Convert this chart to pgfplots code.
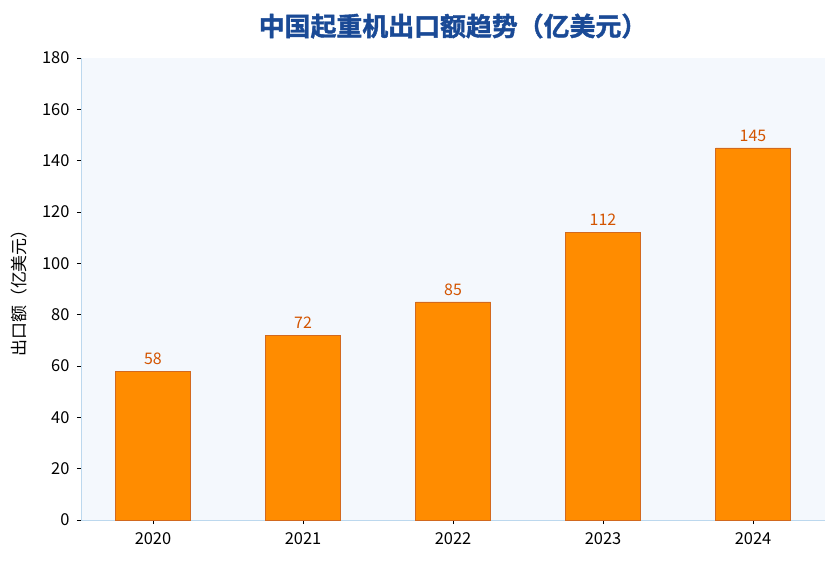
\documentclass[border=0pt]{standalone}
\usepackage{pgfplots}
\pgfplotsset{compat=1.18}
\usepackage{fontspec}
\setmainfont{Noto Sans CJK SC}
\newfontfamily\titlefont[FakeBold=1.5]{Noto Sans CJK SC Bold}
\definecolor{barfill}{HTML}{FF8C00}
\definecolor{baredge}{HTML}{D2691E}
\definecolor{vallab}{HTML}{D35400}
\definecolor{titleblue}{HTML}{1A4A96}
\definecolor{bgc}{HTML}{F4F8FD}
\definecolor{spine}{HTML}{BCD8EE}
\begin{document}
\begin{tikzpicture}
\begin{axis}[
  scale only axis,
  width=744bp, height=462bp,
  xmin=-0.48, xmax=4.48,
  ymin=0, ymax=180,
  ytick={0,20,...,180},
  xtick={0,1,2,3,4},
  xticklabels={2020,2021,2022,2023,2024},
  axis background/.style={fill=bgc},
  axis x line*=bottom, axis y line*=left,
  axis line style={spine, line width=0.8pt},
  tick style={black, line width=0.6pt},
  tick align=outside,
  major tick length=4bp,
  ticklabel style={font=\fontsize{16.5}{16.5}\selectfont},
  yticklabel style={xshift=-4bp},
  xticklabel style={yshift=-5bp},
  /pgf/number format/assume math mode=true,
  ylabel={出口额（亿美元）},
  ylabel style={font=\fontsize{17}{17}\selectfont, yshift=8bp},
  title={\titlefont 中国起重机出口额趋势（亿美元）},
  title style={font=\fontsize{26}{26}\selectfont, color=titleblue, yshift=10bp},
  nodes near coords,
  every node near coord/.append style={font=\fontsize{16}{16}\selectfont, color=vallab, yshift=3bp},
]
\addplot[ybar, bar width=75bp, fill=barfill, draw=baredge, line width=0.5pt]
  coordinates {(0,58) (1,72) (2,85) (3,112) (4,145)};
\end{axis}
\path (current axis.south west) ++(-81bp,-42bp) coordinate (bl);
\path (current axis.north east) ++(11bp,58bp) coordinate (tr);
\useasboundingbox (bl) rectangle (tr);
\end{tikzpicture}
\end{document}
